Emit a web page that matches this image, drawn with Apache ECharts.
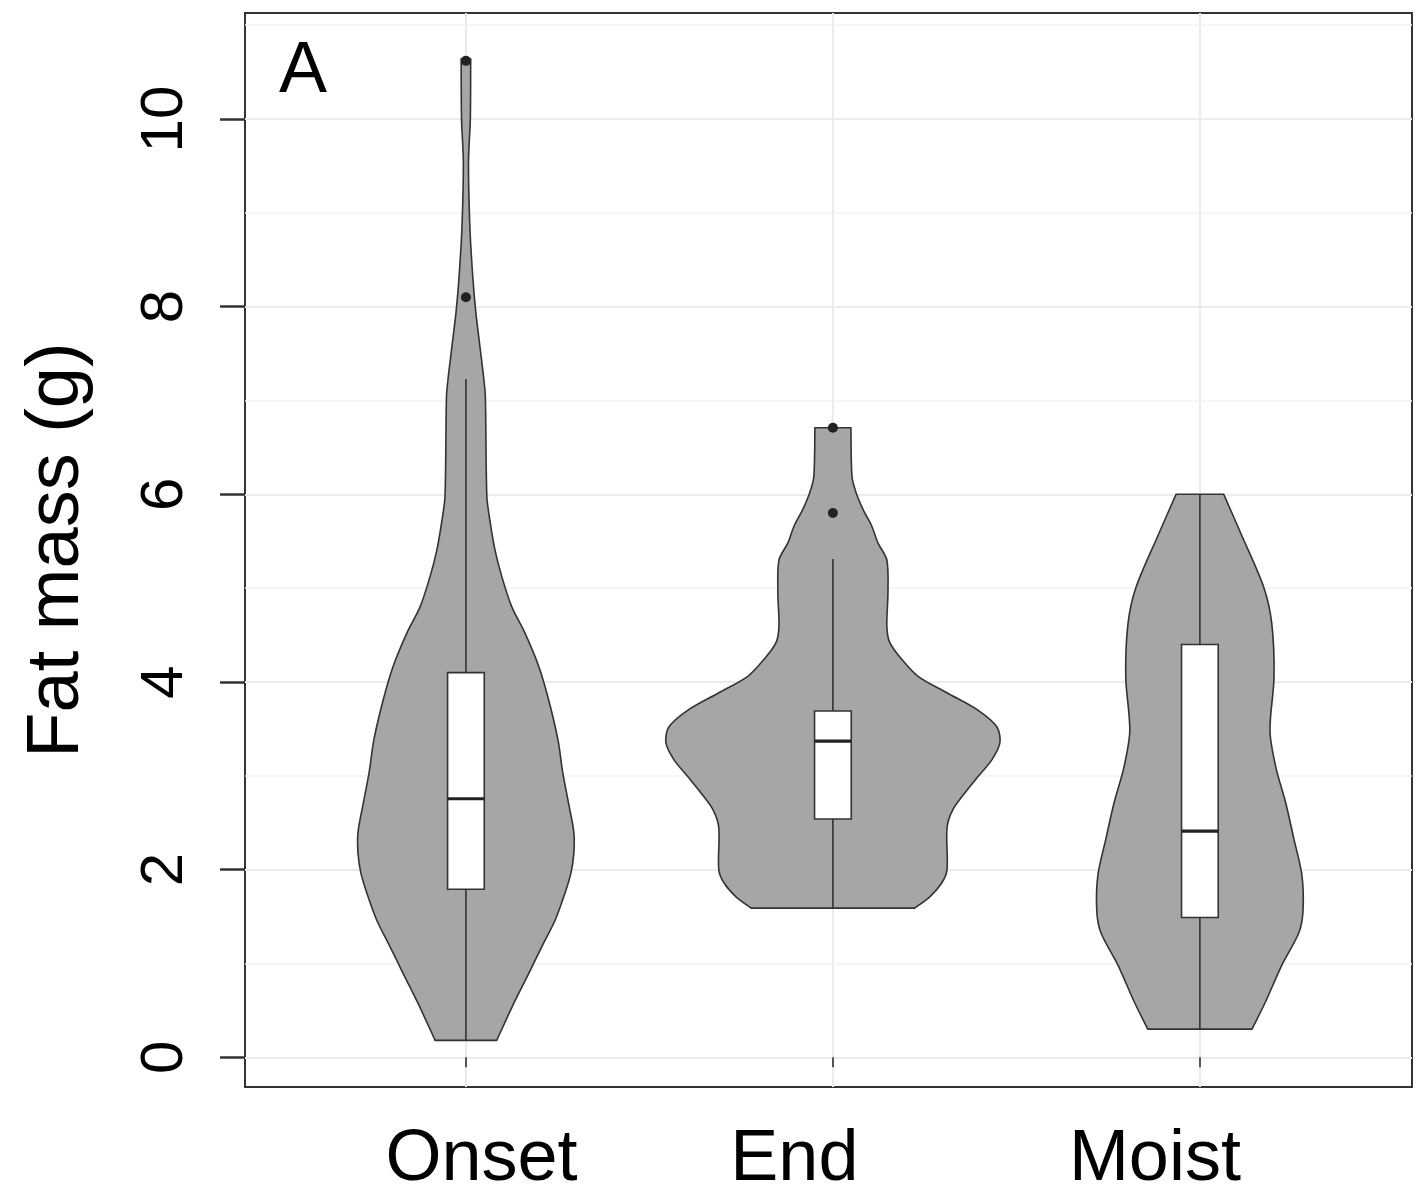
<!DOCTYPE html>
<html><head><meta charset="utf-8">
<script src="https://cdn.jsdelivr.net/npm/echarts@6/dist/echarts.min.js"></script>
<style>html,body{margin:0;padding:0;background:#fff}#c{width:1419px;height:1195px}</style>
</head><body><div id="c"></div>
<script>
// ---- data ----
const categories = ['Onset', 'End', 'Moist'];
const yTicks = [0, 2, 4, 6, 8, 10];
const yMinorTicks = [1, 3, 5, 7, 9, 11];
const xTicks = [1, 2, 3];

// violin outlines: y values and half-widths (category units)
const onsetY = [0.18, 0.53, 0.90, 1.18, 1.46, 1.75, 1.96, 2.17, 2.40, 2.70, 3.03, 3.38, 3.80, 4.16, 4.52, 4.80, 5.12, 5.41, 5.73, 5.98, 7.04, 7.22, 7.58, 7.94, 8.30, 8.83, 9.54, 10.0, 10.64];
const onsetW = [0.084, 0.125, 0.172, 0.207, 0.243, 0.270, 0.286, 0.294, 0.294, 0.280, 0.264, 0.251, 0.226, 0.199, 0.161, 0.125, 0.098, 0.079, 0.065, 0.057, 0.053, 0.049, 0.038, 0.027, 0.019, 0.011, 0.007, 0.012, 0.013];
const endY = [1.59, 1.71, 1.86, 2.0, 2.45, 2.64, 2.82, 2.99, 3.17, 3.35, 3.52, 3.70, 3.88, 4.06, 4.24, 4.42, 4.59, 4.95, 5.30, 5.48, 5.66, 5.84, 6.02, 6.19, 6.71];
const endW = [0.223, 0.264, 0.297, 0.311, 0.311, 0.327, 0.360, 0.395, 0.433, 0.455, 0.447, 0.395, 0.313, 0.232, 0.188, 0.155, 0.147, 0.150, 0.147, 0.123, 0.106, 0.082, 0.063, 0.052, 0.049];
const moistY = [0.30, 0.60, 0.98, 1.33, 1.56, 1.94, 2.33, 2.71, 3.09, 3.48, 4.05, 4.62, 5.01, 5.58, 6.0];
const moistW = [0.142, 0.180, 0.223, 0.270, 0.281, 0.278, 0.256, 0.234, 0.207, 0.191, 0.202, 0.196, 0.174, 0.112, 0.065];

// box stats: [lower whisker, Q1, median, Q3, upper whisker]
const onsetBox = [0.18, 1.79, 2.755, 4.10, 7.23];
const endBox = [1.59, 2.54, 3.37, 3.69, 5.31];
const moistBox = [0.30, 1.49, 2.41, 4.40, 6.0];

// outliers
const onsetOutliers = [8.10, 10.62];
const endOutliers = [6.71, 5.80];
const moistOutliers = [];

// ---- build ----
const violinY = [onsetY, endY, moistY];
const violinW = [onsetW, endW, moistW];
const boxes = [onsetBox, endBox, moistBox];
const outlierPts = [];
[onsetOutliers, endOutliers, moistOutliers].forEach((arr, i) => arr.forEach(v => outlierPts.push([i + 1, v])));

const FONT = 'Liberation Sans, Arial, Helvetica, sans-serif';
const BOX_HALF = 0.05;

function renderViolin(params, api) {
  const i = params.dataIndex;
  const xc = api.value(0);
  const ys = violinY[i], ws = violinW[i];
  const n = ys.length;
  const pts = [];
  // right side, bottom -> top (corner points repeated so the flat ends stay sharp)
  for (let k = 0; k < n; k++) {
    const p = api.coord([xc + ws[k], ys[k]]);
    pts.push(p);
    if (k === 0 || k === n - 1) pts.push(p.slice());
  }
  // left side, top -> bottom
  for (let k = n - 1; k >= 0; k--) {
    const p = api.coord([xc - ws[k], ys[k]]);
    pts.push(p);
    if (k === 0 || k === n - 1) pts.push(p.slice());
  }
  const b = boxes[i];
  const pLow = api.coord([xc, b[0]]), pQ1 = api.coord([xc, b[1]]);
  const pQ3 = api.coord([xc, b[3]]), pHigh = api.coord([xc, b[4]]);
  const bl = api.coord([xc - BOX_HALF, b[3]]), br = api.coord([xc + BOX_HALF, b[1]]);
  const ml = api.coord([xc - BOX_HALF, b[2]]), mr = api.coord([xc + BOX_HALF, b[2]]);
  const edge = '#333333';
  return {
    type: 'group',
    children: [
      { type: 'polygon', shape: { points: pts, smooth: 0.3 }, style: { fill: '#A6A6A6', stroke: edge, lineWidth: 1.6 } },
      { type: 'line', shape: { x1: pLow[0], y1: pLow[1], x2: pQ1[0], y2: pQ1[1] }, style: { stroke: edge, lineWidth: 1.6 } },
      { type: 'line', shape: { x1: pQ3[0], y1: pQ3[1], x2: pHigh[0], y2: pHigh[1] }, style: { stroke: edge, lineWidth: 1.6 } },
      { type: 'rect', shape: { x: bl[0], y: bl[1], width: br[0] - bl[0], height: br[1] - bl[1] }, style: { fill: '#FFFFFF', stroke: edge, lineWidth: 1.6 } },
      { type: 'line', shape: { x1: ml[0], y1: ml[1], x2: mr[0], y2: mr[1] }, style: { stroke: '#222', lineWidth: 3.2 } }
    ]
  };
}

const chart = echarts.init(document.getElementById('c'), null, { renderer: 'canvas' });
chart.setOption({
  backgroundColor: '#FFFFFF',
  animation: false,
  grid: { left: 245, right: 7, top: 13, bottom: 108, containLabel: false, outerBoundsMode: 'none', show: true, borderColor: '#333333', borderWidth: 2, backgroundColor: '#FFFFFF', z: 0 },
  graphic: [{ type: 'text', left: 279, top: 36, style: { text: 'A', font: '72px ' + FONT, fill: '#000' }, z: 10 }],
  xAxis: {
    type: 'value', min: 0.398, max: 3.578,
    axisLine: { show: false },
    axisTick: { show: true, customValues: xTicks, length: 10, lineStyle: { color: '#555', width: 2 } },
    axisLabel: {
      show: true, customValues: xTicks, margin: 37,
      formatter: function (v) { const idx = Math.round(v) - 1; const keys = ['o', 'e', 'm']; return '{' + keys[idx] + '|' + categories[idx] + '}'; },
      rich: {
        o: { fontSize: 72, fontFamily: FONT, color: '#000', padding: [0, 0, 0, 31] },
        e: { fontSize: 72, fontFamily: FONT, color: '#000', padding: [0, 77, 0, 0] },
        m: { fontSize: 72, fontFamily: FONT, color: '#000', padding: [0, 90, 0, 0] }
      }
    },
    splitLine: { show: true, lineStyle: { color: '#EBEBEB', width: 2 } }
  },
  yAxis: {
    type: 'value', min: -0.317, max: 11.13,
    axisLine: { show: false },
    axisTick: { show: true, customValues: yTicks, length: 25, lineStyle: { color: '#333', width: 2.5 } },
    axisLabel: { show: true, customValues: yTicks, rotate: 90, margin: 50, fontSize: 60, fontFamily: FONT, color: '#000' },
    splitLine: { show: true, lineStyle: { color: '#EBEBEB', width: 2 } },
    name: 'Fat mass (g)', nameLocation: 'middle', nameRotate: 90, nameGap: 150,
    nameTextStyle: { fontSize: 74, fontFamily: FONT, color: '#000' }
  },
  series: [
    {
      type: 'line', data: [], z: 1, silent: true,
      markLine: {
        silent: true, symbol: 'none', label: { show: false }, z: 1,
        lineStyle: { color: '#F3F3F3', width: 1.5, type: 'solid' },
        data: yMinorTicks.map(v => ({ yAxis: v }))
      }
    },
    {
      type: 'custom', z: 3, renderItem: renderViolin,
      data: xTicks.map(v => [v]), encode: { x: 0 }, silent: true
    },
    {
      type: 'scatter', z: 5, data: outlierPts, symbolSize: 10,
      itemStyle: { color: '#222', opacity: 1 }, silent: true
    }
  ]
});
</script>
</body></html>
